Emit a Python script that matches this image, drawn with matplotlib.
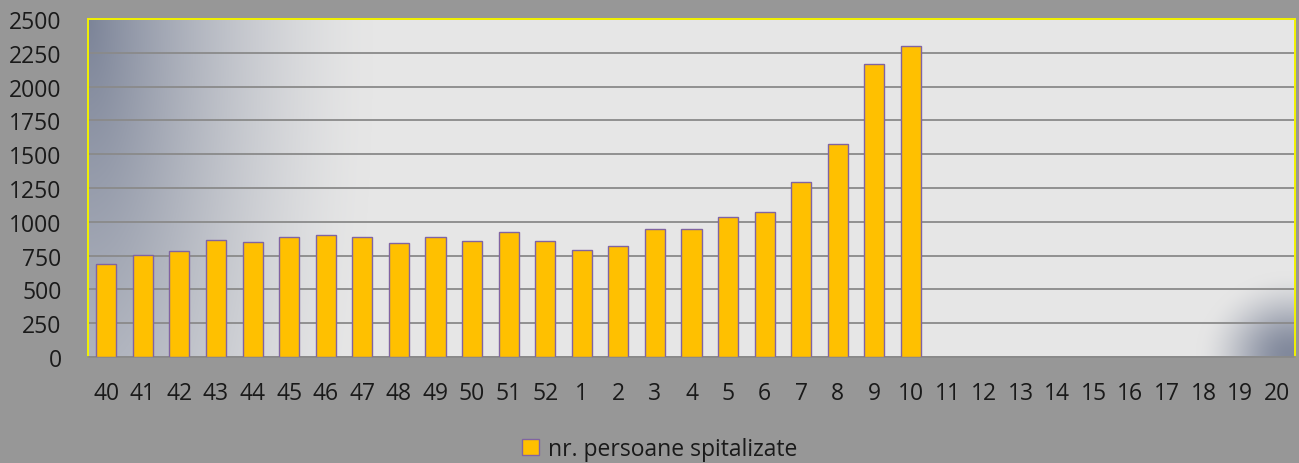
import numpy as np
import matplotlib.pyplot as plt
from matplotlib.patches import Patch

# ============================================================
# DATA
# ============================================================

WEEKS = ['40', '41', '42', '43', '44', '45', '46', '47', '48', '49', '50', '51', '52',
         '1', '2', '3', '4', '5', '6', '7', '8', '9', '10',
         '11', '12', '13', '14', '15', '16', '17', '18', '19', '20']
HOSPITALIZED = [689, 756, 783, 862, 850, 889, 899, 889, 840, 887, 859, 926, 859,
                795, 822, 946, 946, 1039, 1069, 1295, 1576, 2167, 2298]
Y_TICKS = [0, 250, 500, 750, 1000, 1250, 1500, 1750, 2000, 2250, 2500]
SERIES_LABEL = 'nr. persoane spitalizate'

# ============================================================
# STYLE
# ============================================================

FIG_BG = '#979797'
PLOT_BG = np.array([0xe6, 0xe6, 0xe6]) / 255
SHADE = np.array([0x7c, 0x84, 0x98]) / 255
BAR_COLOR = '#FFC000'
BAR_EDGE = '#8064A2'
GRID_COLOR = '#8a8a8a'
FONT = 'Open Sans'


def background_image(w, h):
    """Excel-style preset gradient: dark corner top-left, soft blob bottom-right."""
    xx, yy = np.meshgrid(np.arange(w), np.arange(h))
    d1 = np.sqrt(xx ** 2 + (yy * 0.3) ** 2) / 285.0
    t1 = np.clip(1 - d1, 0, 1) ** 1.5
    d2 = np.sqrt(((xx - (w - 5)) / 95.0) ** 2 + ((yy - (h - 2)) / 85.0) ** 2)
    t2 = np.clip(1 - d2, 0, 1)
    t2 = t2 * t2 * (3 - 2 * t2)
    t = np.maximum(t1, t2 * 0.95)
    img = PLOT_BG[None, None, :] * (1 - t[..., None]) + SHADE[None, None, :] * t[..., None]
    return img


fig = plt.figure(figsize=(12.99, 4.64), dpi=100, facecolor=FIG_BG)
ax = fig.add_axes([88 / 1299, 1 - 358 / 464, 1207 / 1299, 338 / 464])
ax.set_facecolor('none')

ax.imshow(background_image(1207, 338), extent=(0, 1, 0, 1), transform=ax.transAxes,
          aspect='auto', zorder=0, interpolation='bilinear')

x = np.arange(len(WEEKS))
ax.bar(x[:len(HOSPITALIZED)], HOSPITALIZED, width=0.55, color=BAR_COLOR,
       edgecolor=BAR_EDGE, linewidth=1.0, zorder=3)

ax.set_xlim(-0.5, len(WEEKS) - 0.5)
ax.set_ylim(0, 2500)
ax.set_yticks(Y_TICKS)
ax.set_xticks(x)
ax.set_xticklabels(WEEKS)

ax.yaxis.grid(True, color=GRID_COLOR, linewidth=1.3, zorder=1)
ax.set_axisbelow(True)

for name in ['top', 'left', 'right']:
    ax.spines[name].set_color('#f2f200')
    ax.spines[name].set_linewidth(1.4)
ax.spines['bottom'].set_color('#8a8a8a')
ax.spines['bottom'].set_linewidth(1.3)

ax.tick_params(axis='both', length=0, labelsize=16.5, labelcolor='#1a1a1a')
ax.tick_params(axis='y', pad=19)
ax.tick_params(axis='x', pad=17)
for lbl in ax.get_xticklabels() + ax.get_yticklabels():
    lbl.set_fontfamily(FONT)

handle = Patch(facecolor=BAR_COLOR, edgecolor=BAR_EDGE, linewidth=1.0)
leg = fig.legend([handle], [SERIES_LABEL], loc='center',
                 bbox_to_anchor=(660 / 1299, 1 - 450 / 464), frameon=False,
                 handlelength=0.75, handleheight=0.75, handletextpad=0.4,
                 prop={'family': FONT, 'size': 16.5})
for t in leg.get_texts():
    t.set_color('#1a1a1a')

fig.savefig('out.png', dpi=100, facecolor=FIG_BG)
